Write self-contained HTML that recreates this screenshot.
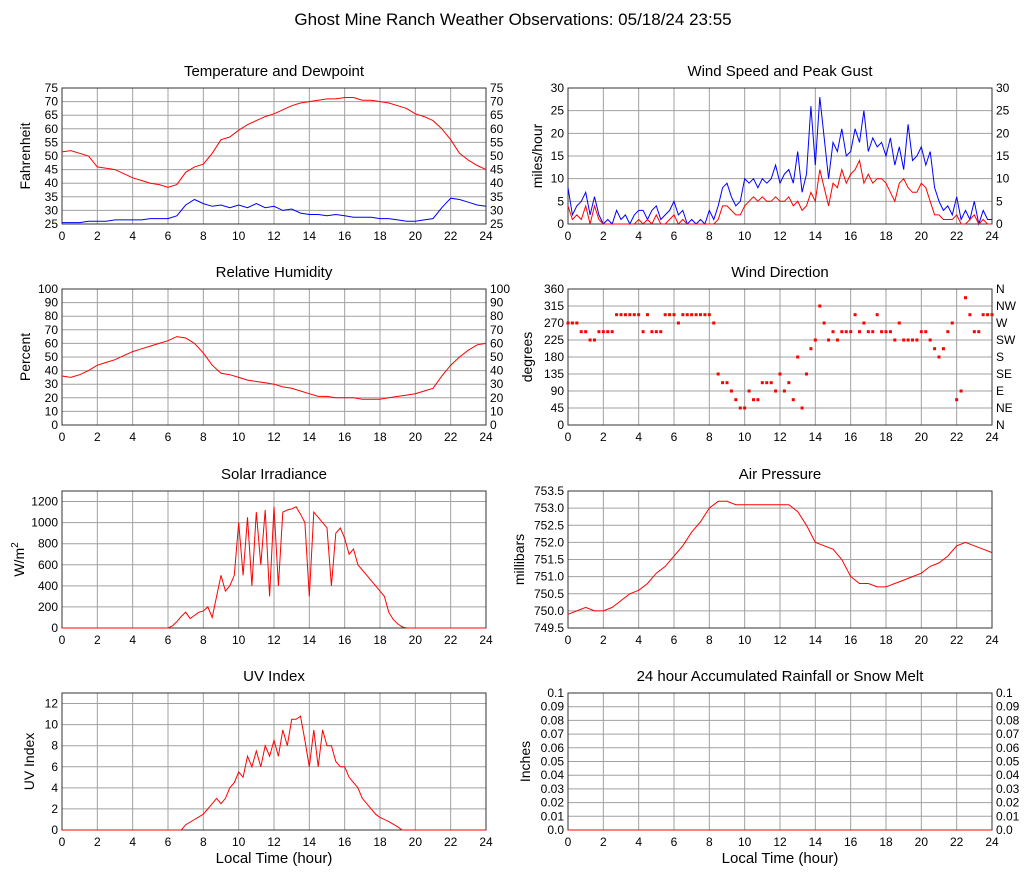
<!DOCTYPE html>
<html><head><meta charset="utf-8"><style>
body{margin:0;background:#fff;}
svg{display:block;font-family:"Liberation Sans",sans-serif;}
</style></head><body>
<svg id="c" width="1027" height="878" xmlns="http://www.w3.org/2000/svg">
<text x="513" y="25" text-anchor="middle" font-size="17">Ghost Mine Ranch Weather Observations: 05/18/24 23:55</text>
</svg>
<script>
const hours=[0,2,4,6,8,10,12,14,16,18,20,22,24];
const tempV=[51.5,52,51,50,46,45.5,45,43.5,42,41,40,39.5,38.5,39.5,44,46,47,51,56,57,59.5,61.5,63,64.5,65.5,67,68.5,69.5,70,70.5,71,71,71.5,71.5,70.5,70.5,70,69.5,68.5,67.5,65.5,64.5,63,60,56,51,48.5,46.5,45];
const dewV=[25.5,25.5,25.5,26,26,26,26.5,26.5,26.5,26.5,27,27,27,28,32,34,32.5,31.5,32,31,32,31,32.5,31,31.5,30,30.5,29,28.5,28.5,28,28.5,28,27.5,27.5,27.5,27,27,26.5,26,26,26.5,27,31,34.5,34,33,32,31.5];
const rhV=[36,35,37,40,44,46,48,51,54,56,58,60,62,65,64,60,53,44,38,37,35,33,32,31,30,28,27,25,23,21,21,20,20,20,19,19,19,20,21,22,23,25,27,36,44,50,55,59,60];
const gustV=[8,2,4,5,7,2,6,2,0,1,0,3,1,2,0,2,3,3,1,3,4,1,2,3,5,2,3,0,1,0,1,0,3,1,4,8,9,6,4,5,10,9,10,8,10,9,10,13,9,11,12,9,16,7,11,26,13,28,19,10,18,16,21,15,16,21,18,25,16,19,17,18,15,19,13,17,12,22,14,15,17,13,16,8,5,3,4,2,6,1,3,1,5,0,3,1,1];
const speedV=[4,1,2,1,4,0,4,1,0,0,0,0,0,0,0,0,1,0,1,0,2,0,0,1,2,0,1,0,0,0,0,0,0,0,1,4,4,3,2,2,4,5,6,5,6,5,5,6,5,5,6,4,5,3,4,7,5,12,8,4,9,8,12,9,11,12,14,9,11,9,10,10,9,7,5,9,10,8,7,7,9,8,5,2,2,1,1,1,2,0,0,1,2,0,1,0,0];
const dirV=[270,270,270,247,247,225,225,247,247,247,247,292,292,292,292,292,292,247,292,247,247,247,292,292,292,270,292,292,292,292,292,292,292,270,135,112,112,90,67,45,45,90,67,67,112,112,112,90,135,90,112,67,180,45,135,202,225,315,270,225,247,225,247,247,247,292,247,270,247,247,292,247,247,247,225,270,225,225,225,225,247,247,225,202,180,202,247,270,67,90,337,292,247,247,292,292,292];
const solarT=[0,6,6.25,6.5,6.75,7,7.25,7.5,7.75,8,8.25,8.5,8.75,9,9.25,9.5,9.75,10,10.25,10.5,10.75,11,11.25,11.5,11.75,12,12.25,12.5,12.75,13,13.25,13.5,13.75,14,14.25,14.5,14.75,15,15.25,15.5,15.75,16,16.25,16.5,16.75,17,17.25,17.5,17.75,18,18.25,18.5,18.75,19,19.25,19.5,24];
const solarV=[0,0,20,60,110,150,90,120,150,160,200,100,300,500,350,400,500,1000,500,1050,400,1100,600,1120,300,1150,400,1100,1120,1130,1150,1080,1000,300,1100,1050,1000,950,400,900,950,850,700,750,600,550,500,450,400,350,300,150,80,40,10,0,0];
const uvT=[0,6.75,7,7.5,8,8.5,8.75,9,9.25,9.5,9.75,10,10.25,10.5,10.75,11,11.25,11.5,11.75,12,12.25,12.5,12.75,13,13.25,13.5,13.75,14,14.25,14.5,14.75,15,15.25,15.5,15.75,16,16.25,16.5,16.75,17,17.25,17.5,17.75,18,18.5,19,19.25,24];
const uvV=[0,0,0.5,1,1.5,2.5,3,2.5,3,4,4.5,5.5,5,7,6,7.5,6,8,7,8.5,7,9.5,8,10.5,10.5,10.8,8.5,6,9.5,6,9.5,8,8,6.5,6,6,5,4.5,4,3,2.5,2,1.5,1.2,0.8,0.3,0,0];
const presV=[749.9,750,750.1,750,750,750.1,750.3,750.5,750.6,750.8,751.1,751.3,751.6,751.9,752.3,752.6,753,753.2,753.2,753.1,753.1,753.1,753.1,753.1,753.1,753.1,752.9,752.5,752,751.9,751.8,751.5,751,750.8,750.8,750.7,750.7,750.8,750.9,751,751.1,751.3,751.4,751.6,751.9,752,751.9,751.8,751.7];
const rainT=[0,24];
const rainV=[0,0];

const NS="http://www.w3.org/2000/svg";
const svg=document.getElementById('c');
function mk(tag,attrs,parent){const e=document.createElementNS(NS,tag);for(const k in attrs)e.setAttribute(k,attrs[k]);(parent||svg).appendChild(e);return e;}
function txt(s,attrs,parent){const e=mk('text',attrs,parent);e.textContent=s;return e;}
function seq(n,step){return Array.from({length:n},(_,i)=>i*step);}

function panel(o){
  const g=mk('g',{});
  
  
  const xs=h=>o.x0+(o.x1-o.x0)*h/24;
  const ys=v=>o.y1-(o.y1-o.y0)*(v-o.min)/(o.max-o.min);
  const t=txt(o.title,{x:(o.x0+o.x1)/2,y:o.y0-12,'text-anchor':'middle','font-size':15},g);
  
  o.ticks.forEach((v,i)=>{
    const y=ys(v);
    mk('line',{x1:o.x0,x2:o.x1,y1:y,y2:y,stroke:'#a0a0a0','stroke-width':1},g);
    const l=txt(o.fmt(v),{x:o.x0-4,y:y+4,'text-anchor':'end','font-size':12},g);
    
    if(o.right){const r=txt(o.right[i],{x:o.x1+4,y:y+4,'font-size':12},g);
      }
  });
  hours.forEach(h=>{
    const x=xs(h);
    mk('line',{x1:x,x2:x,y1:o.y0,y2:o.y1,stroke:'#a0a0a0','stroke-width':1},g);
    const l=txt(String(h),{x:x,y:o.y1+16,'text-anchor':'middle','font-size':12},g);
    
  });
  mk('rect',{x:o.x0,y:o.y0,width:o.x1-o.x0,height:o.y1-o.y0,fill:'none',stroke:'#333','stroke-width':1},g);
  const yl=txt(o.ylabel,{x:0,y:0,'text-anchor':'middle','font-size':14,transform:`translate(${o.x0-(o.ylOff||30)},${(o.y0+o.y1)/2}) rotate(-90)`},g);
  
  if(o.sup){const s=mk('tspan',{dy:-6,'font-size':10},yl);s.textContent='2';}
  if(o.xlabel){const xl=txt('Local Time (hour)',{x:(o.x0+o.x1)/2,y:o.y1+33,'text-anchor':'middle','font-size':15},g);
    }
  o.series.forEach(s=>{
    if(s.dots){
      s.v.forEach((v,i)=>{const r=mk('rect',{x:xs(s.t[i])-1.5,y:ys(v)-1.5,width:3,height:3,fill:s.c},g);
        });
    }else{
      const p=mk('polyline',{points:s.v.map((v,i)=>xs(s.t[i]).toFixed(1)+','+ys(v).toFixed(1)).join(' '),fill:'none',stroke:s.c,'stroke-width':1},g);
      
    }
  });
}
const t05=seq(49,0.5), t025=seq(97,0.25);
const L={x0:62,x1:486}, R={x0:568,x1:992};
const num=v=>String(v);
const tT=seq(11,5).map(v=>v+25);
panel({name:'temperature-panel',title:'Temperature and Dewpoint',...L,y0:88,y1:224,min:25,max:75,ticks:tT,fmt:num,right:tT.map(String),ylabel:'Fahrenheit',ylOff:32,
  series:[{t:t05,v:tempV,c:'#f00',name:'temperature-line'},{t:t05,v:dewV,c:'#00f',name:'dewpoint-line'}]});
const wT=seq(7,5);
panel({name:'wind-speed-panel',title:'Wind Speed and Peak Gust',...R,y0:88,y1:224,min:0,max:30,ticks:wT,fmt:num,right:wT.map(String),ylabel:'miles/hour',ylOff:26,
  series:[{t:t025,v:gustV,c:'#00f',name:'gust-line'},{t:t025,v:speedV,c:'#f00',name:'speed-line'}]});
const hT=seq(11,10);
panel({name:'humidity-panel',title:'Relative Humidity',...L,y0:289,y1:425,min:0,max:100,ticks:hT,fmt:num,right:hT.map(String),ylabel:'Percent',ylOff:32,
  series:[{t:t05,v:rhV,c:'#f00',name:'humidity-line'}]});
const dT=seq(9,45);
panel({name:'wind-direction-panel',title:'Wind Direction',...R,y0:289,y1:425,min:0,max:360,ticks:dT,fmt:num,right:['N','NE','E','SE','S','SW','W','NW','N'],ylabel:'degrees',ylOff:36,
  series:[{t:t025,v:dirV,c:'#f00',dots:true}]});
panel({name:'solar-panel',title:'Solar Irradiance',...L,y0:491,y1:628,min:0,max:1300,ticks:seq(7,200),fmt:num,ylabel:'W/m',sup:true,ylOff:38,
  series:[{t:solarT,v:solarV,c:'#f00',name:'solar-line'}]});
panel({name:'pressure-panel',title:'Air Pressure',...R,y0:491,y1:628,min:749.5,max:753.5,ticks:seq(9,0.5).map(v=>749.5+v),fmt:v=>v.toFixed(1),ylabel:'millibars',ylOff:44,
  series:[{t:t05,v:presV,c:'#f00',name:'pressure-line'}]});
panel({name:'uv-panel',title:'UV Index',...L,y0:693,y1:830,min:0,max:13,ticks:seq(7,2),fmt:num,ylabel:'UV Index',ylOff:28,xlabel:true,
  series:[{t:uvT,v:uvV,c:'#f00',name:'uv-line'}]});
const rT=seq(11,0.01).map(v=>+v.toFixed(2));
panel({name:'rain-panel',title:'24 hour Accumulated Rainfall or Snow Melt',...R,y0:693,y1:830,min:0,max:0.1,ticks:rT,fmt:v=>v===0?'0.0':String(v),right:rT.map(v=>v===0?'0.0':String(v)),ylabel:'Inches',ylOff:38,xlabel:true,
  series:[{t:rainT,v:rainV,c:'#f00',name:'rain-line'}]});
</script>
</body></html>
